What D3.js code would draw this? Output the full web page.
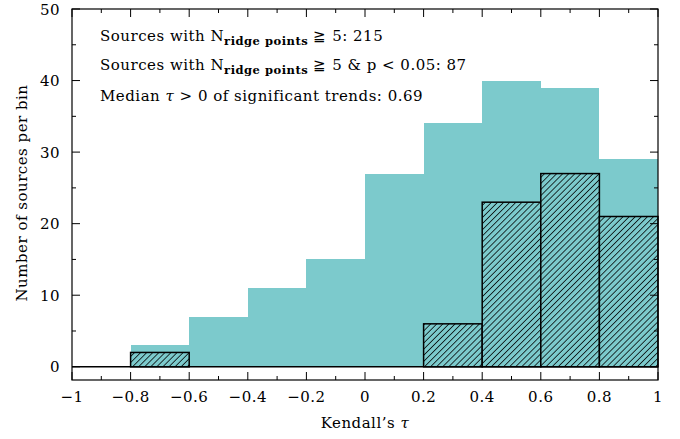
<!DOCTYPE html>
<html lang="en">
<head>
    <meta charset="utf-8" />
    <title>Kendall tau histogram</title>
    <script src="https://d3js.org/d3.v7.min.js"></script>
    <style>
        body { margin: 0; background: #fff; }
        text { font-family: "DejaVu Serif", serif; fill: #000; letter-spacing: 0.5px; }
    </style>
</head>
<body>
    <div id="graph"></div>
    <script>
        // bin edges (left side of each 0.2-wide bin)
        var binStarts = [-1, -0.8, -0.6, -0.4, -0.2, 0, 0.2, 0.4, 0.6, 0.8];
        var allCounts = [0, 3, 7, 11, 15, 27, 34, 40, 39, 29];
        var sigCounts = [0, 2, 0, 0, 0, 0, 6, 23, 27, 21];
        var xTicks = [-1, -0.8, -0.6, -0.4, -0.2, 0, 0.2, 0.4, 0.6, 0.8, 1];
        var yTicks = [0, 10, 20, 30, 40, 50];
        var binWidth = 0.2;

        var width = 680, height = 439;
        var margin = { left: 72, right: 22, top: 9, bottom: 59 };
        var cyan = "#7ccacc";

        var svg = d3.select("#graph").append("svg")
            .attr("width", width)
            .attr("height", height);

        var x = d3.scaleLinear().domain([-1, 1]).range([margin.left, width - margin.right]);
        var y = d3.scaleLinear().domain([-1.85, 50]).range([height - margin.bottom, margin.top]);

        var defs = svg.append("defs");
        var pat = defs.append("pattern")
            .attr("id", "hatch")
            .attr("patternUnits", "userSpaceOnUse")
            .attr("width", 4.3).attr("height", 4.3)
            .attr("patternTransform", "rotate(45)");
        pat.append("rect").attr("width", 4.3).attr("height", 4.3).attr("fill", cyan);
        pat.append("line")
            .attr("x1", 0).attr("y1", 0).attr("x2", 0).attr("y2", 4.3)
            .attr("stroke", "#000").attr("stroke-width", 1.5);

        // all sources
        svg.append("g").selectAll("rect")
            .data(binStarts.map((b, i) => ({ x0: b, n: allCounts[i] })))
            .enter().append("rect")
            .attr("x", d => Math.round(x(d.x0)))
            .attr("y", d => y(d.n))
            .attr("width", d => Math.round(x(d.x0 + binWidth)) - Math.round(x(d.x0)))
            .attr("height", d => y(0) - y(d.n))
            .attr("fill", cyan)
            .attr("shape-rendering", "crispEdges");

        // zero line of the significant histogram
        svg.append("line")
            .attr("x1", x(-1)).attr("x2", x(1))
            .attr("y1", y(0)).attr("y2", y(0))
            .attr("stroke", "#000").attr("stroke-width", 1.5);

        // significant trends, hatched
        svg.append("g").selectAll("rect")
            .data(binStarts.map((b, i) => ({ x0: b, n: sigCounts[i] })).filter(d => d.n > 0))
            .enter().append("rect")
            .attr("x", d => x(d.x0))
            .attr("y", d => y(d.n))
            .attr("width", d => x(d.x0 + binWidth) - x(d.x0))
            .attr("height", d => y(0) - y(d.n))
            .attr("fill", "url(#hatch)")
            .attr("stroke", "#000")
            .attr("stroke-width", 1.5);

        // frame
        svg.append("rect")
            .attr("x", x(-1)).attr("y", y(50))
            .attr("width", x(1) - x(-1)).attr("height", y(-1.85) - y(50))
            .attr("fill", "none").attr("stroke", "#000").attr("stroke-width", 1.2);

        // ticks on all four sides, pointing inward
        var ticks = svg.append("g").attr("stroke", "#000").attr("stroke-width", 1);
        d3.range(-1, 1.0001, 0.1).forEach(function (v, i) {
            var len = i % 2 === 0 ? 8 : 4;
            ticks.append("line").attr("x1", x(v)).attr("x2", x(v))
                .attr("y1", y(-1.85)).attr("y2", y(-1.85) - len);
            ticks.append("line").attr("x1", x(v)).attr("x2", x(v))
                .attr("y1", y(50)).attr("y2", y(50) + len);
        });
        d3.range(0, 50.001, 5).forEach(function (v, i) {
            var len = i % 2 === 0 ? 8 : 4;
            ticks.append("line").attr("y1", y(v)).attr("y2", y(v))
                .attr("x1", x(-1)).attr("x2", x(-1) + len);
            ticks.append("line").attr("y1", y(v)).attr("y2", y(v))
                .attr("x1", x(1)).attr("x2", x(1) - len);
        });

        // tick labels
        svg.append("g").selectAll("text")
            .data(xTicks).enter().append("text")
            .attr("x", d => x(d))
            .attr("y", y(-1.85) + 22)
            .attr("text-anchor", "middle")
            .attr("font-size", 15)
            .text(d => d < 0 ? "\u2212" + Math.abs(d) : String(d));

        svg.append("g").selectAll("text")
            .data(yTicks).enter().append("text")
            .attr("x", x(-1) - 12)
            .attr("y", d => y(d) + 5.5)
            .attr("text-anchor", "end")
            .attr("font-size", 15)
            .text(d => d);

        // axis titles
        svg.append("text")
            .attr("x", (x(-1) + x(1)) / 2)
            .attr("y", 428)
            .attr("text-anchor", "middle")
            .attr("font-size", 15)
            .html("Kendall\u2019s <tspan font-style='italic'>\u03c4</tspan>");

        svg.append("text")
            .attr("transform", "translate(27,193) rotate(-90)")
            .attr("text-anchor", "middle")
            .attr("font-size", 15)
            .text("Number of sources per bin");

        // annotations
        var notes = svg.append("g").attr("font-size", 15);
        var l1 = notes.append("text").attr("x", 100).attr("y", 41);
        l1.append("tspan").text("Sources with N");
        l1.append("tspan").attr("font-size", 11.5).attr("font-weight", "bold").attr("dy", 4).text("ridge points");
        l1.append("tspan").attr("dy", -4).text(" \u2267 5: 215");

        var l2 = notes.append("text").attr("x", 100).attr("y", 70);
        l2.append("tspan").text("Sources with N");
        l2.append("tspan").attr("font-size", 11.5).attr("font-weight", "bold").attr("dy", 4).text("ridge points");
        l2.append("tspan").attr("dy", -4).text(" \u2267 5 & p < 0.05: 87");

        var l3 = notes.append("text").attr("x", 100).attr("y", 101);
        l3.append("tspan").text("Median ");
        l3.append("tspan").attr("font-style", "italic").text("\u03c4");
        l3.append("tspan").text(" > 0 of significant trends: 0.69");
    </script>
</body>
</html>
